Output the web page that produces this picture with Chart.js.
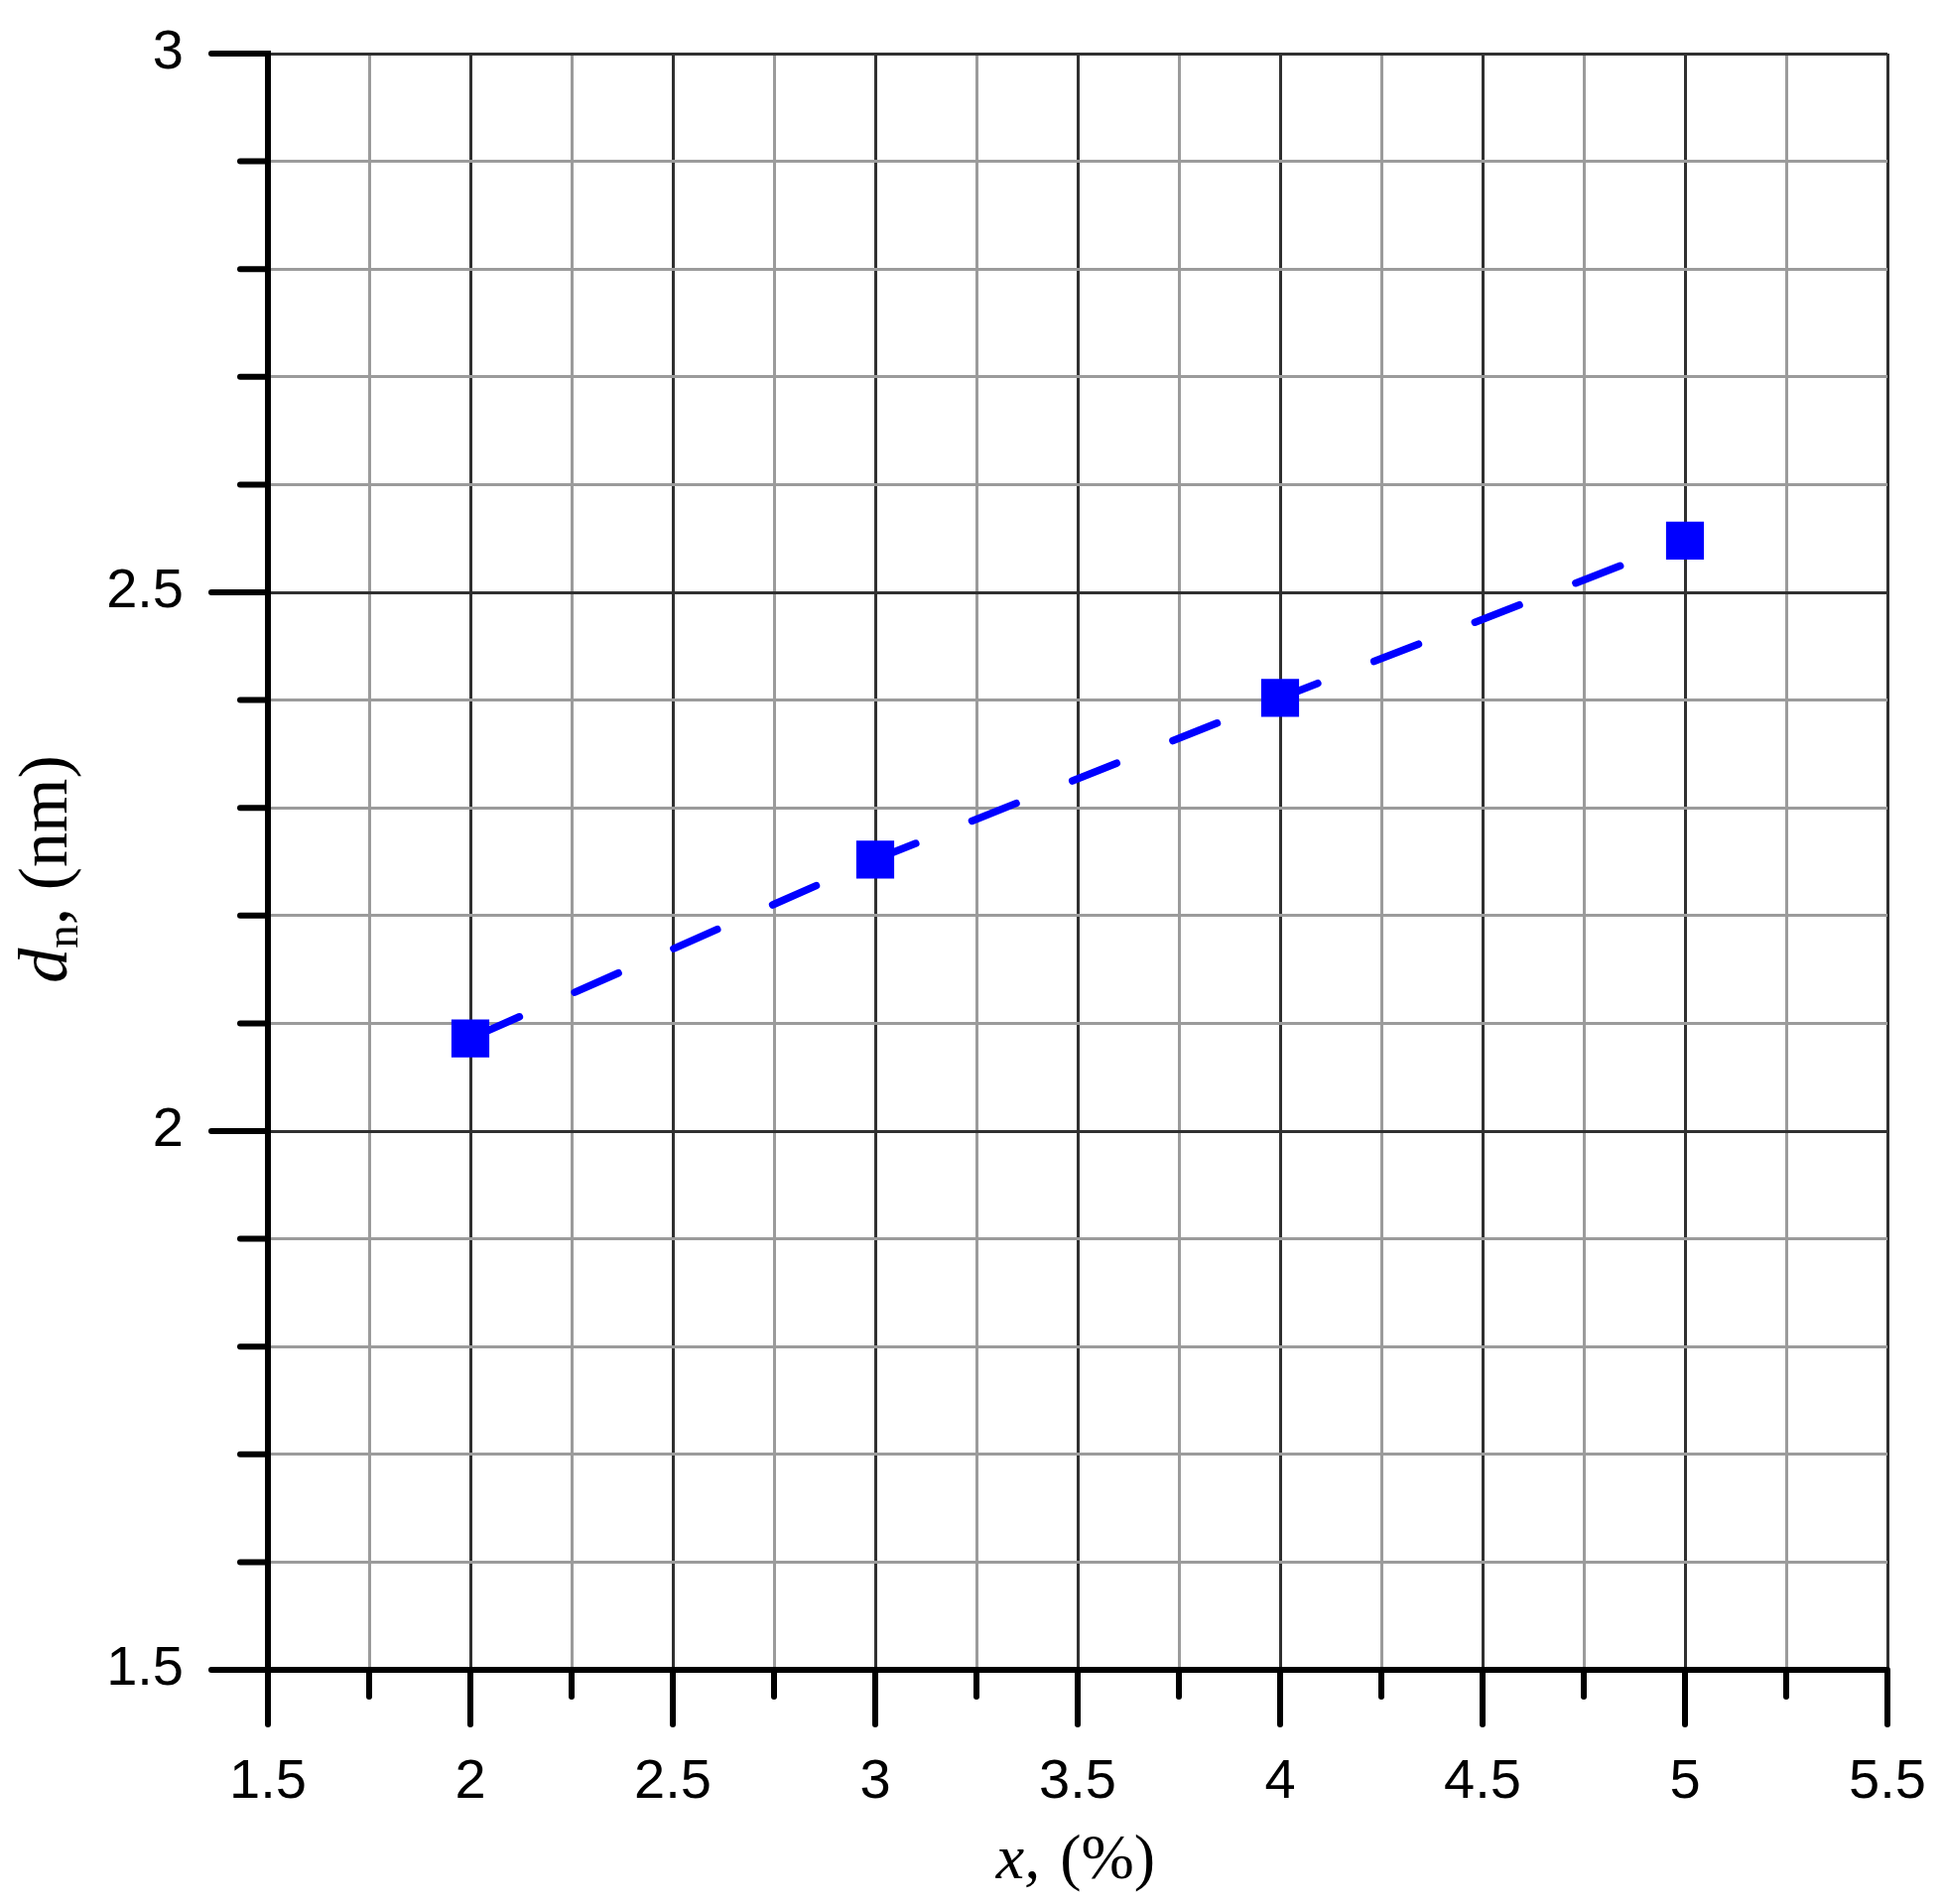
<!DOCTYPE html>
<html>
<head>
<meta charset="utf-8">
<script src="https://cdn.jsdelivr.net/npm/chart.js@4.4.0/dist/chart.umd.min.js"></script>
<style>
  html, body { margin: 0; padding: 0; background: #fff; }
  #wrap { width: 1958px; height: 1919px; }
</style>
</head>
<body>
<div id="wrap"><canvas id="chart" width="1958" height="1919"></canvas></div>
<script>
// data
var xValues = [2, 3, 4, 5];
var dnValues = [2.086, 2.252, 2.402, 2.548];

var xMin = 1.5, xMax = 5.5, xStep = 0.25;
var yMin = 1.5, yMax = 3, yStep = 0.1;

function isMajor(v) {
    return Math.abs(v * 2 - Math.round(v * 2)) < 1e-6;
}

function gridColor(c) {
    return isMajor(c.tick.value) ? '#303030' : '#9b9b9b';
}

function labelFor(v) {
    return isMajor(v) ? String(Math.round(v * 10) / 10) : '';
}

// outer tick marks: long on majors, short on minors
var tickMarks = {
    id: 'tickMarks',
    afterDraw: function (chart) {
        var ctx = chart.ctx,
            xs = chart.scales.x,
            ys = chart.scales.y,
            area = chart.chartArea;
        ctx.save();
        ctx.strokeStyle = '#000';
        ctx.lineWidth = 6;
        ctx.lineCap = 'round';
        xs.ticks.forEach(function (t) {
            var px = xs.getPixelForValue(t.value),
                len = isMajor(t.value) ? 55 : 27;
            ctx.beginPath();
            ctx.moveTo(px, area.bottom);
            ctx.lineTo(px, area.bottom + len);
            ctx.stroke();
        });
        ys.ticks.forEach(function (t) {
            var py = ys.getPixelForValue(t.value),
                len = isMajor(t.value) ? 57 : 28;
            ctx.beginPath();
            ctx.moveTo(area.left, py);
            ctx.lineTo(area.left - len, py);
            ctx.stroke();
        });
        ctx.restore();
    }
};

// axis titles with mixed italic / subscript
var axisTitles = {
    id: 'axisTitles',
    afterDraw: function (chart) {
        var ctx = chart.ctx,
            area = chart.chartArea,
            w1, w2, w3, total, x0;
        ctx.save();
        ctx.fillStyle = '#000';
        ctx.textBaseline = 'alphabetic';
        ctx.textAlign = 'left';

        // x, (%)
        ctx.font = 'italic 64px "Liberation Serif"';
        w1 = ctx.measureText('x,').width;
        ctx.font = '64px "Liberation Serif"';
        w2 = ctx.measureText(' (%)').width;
        x0 = (area.left + area.right) / 2 - 4 - (w1 + w2) / 2;
        ctx.font = 'italic 64px "Liberation Serif"';
        ctx.fillText('x,', x0, 1893);
        ctx.font = '64px "Liberation Serif"';
        ctx.fillText(' (%)', x0 + w1 + 4, 1893);

        // d_n, (nm)
        ctx.translate(67, 876);
        ctx.rotate(-Math.PI / 2);
        ctx.font = 'italic 70px "Liberation Serif"';
        w1 = ctx.measureText('d').width;
        ctx.font = '47px "Liberation Serif"';
        w2 = ctx.measureText('n').width;
        ctx.font = '70px "Liberation Serif"';
        w3 = ctx.measureText(', (nm)').width;
        total = w1 + w2 + w3;
        x0 = -total / 2;
        ctx.font = 'italic 70px "Liberation Serif"';
        ctx.fillText('d', x0, 0);
        ctx.font = '47px "Liberation Serif"';
        ctx.fillText('n', x0 + w1, 11);
        ctx.font = '70px "Liberation Serif"';
        ctx.fillText(', (nm)', x0 + w1 + w2, 0);
        ctx.restore();
    }
};

var points = xValues.map(function (x, i) {
    return { x: x, y: dnValues[i] };
});

var chart = new Chart(document.getElementById('chart').getContext('2d'), {
    type: 'scatter',
    data: {
        datasets: [{
            data: points,
            showLine: true,
            borderColor: '#0000ff',
            borderWidth: 7.5,
            borderDash: [48, 61],
            borderDashOffset: -6,
            borderCapStyle: 'round',
            backgroundColor: '#0000ff',
            pointStyle: 'rect',
            pointRadius: 27,
            pointBorderWidth: 0,
            pointBackgroundColor: '#0000ff'
        }]
    },
    options: {
        responsive: false,
        devicePixelRatio: 1,
        animation: false,
        layout: { padding: { left: 0, top: 54, right: 56, bottom: 0 } },
        plugins: {
            legend: { display: false },
            tooltip: { enabled: false }
        },
        scales: {
            x: {
                type: 'linear',
                min: xMin,
                max: xMax,
                afterFit: function (s) {
                    s.height = 236;
                    s.paddingLeft = 0;
                    s.paddingRight = 0;
                },
                grid: { color: gridColor, lineWidth: 3, drawTicks: false },
                border: { color: '#000', width: 6 },
                ticks: {
                    stepSize: xStep,
                    autoSkip: false,
                    maxRotation: 0,
                    padding: 80,
                    color: '#000',
                    font: { family: '"Liberation Sans"', size: 56 },
                    callback: labelFor
                }
            },
            y: {
                type: 'linear',
                min: yMin,
                max: yMax,
                afterFit: function (s) {
                    s.width = 270;
                    s.paddingTop = 0;
                    s.paddingBottom = 0;
                },
                grid: { color: gridColor, lineWidth: 3, drawTicks: false },
                border: { color: '#000', width: 6 },
                ticks: {
                    stepSize: yStep,
                    autoSkip: false,
                    padding: 85,
                    color: '#000',
                    font: { family: '"Liberation Sans"', size: 56 },
                    callback: labelFor
                }
            }
        }
    },
    plugins: [tickMarks, axisTitles]
});
</script>
</body>
</html>
